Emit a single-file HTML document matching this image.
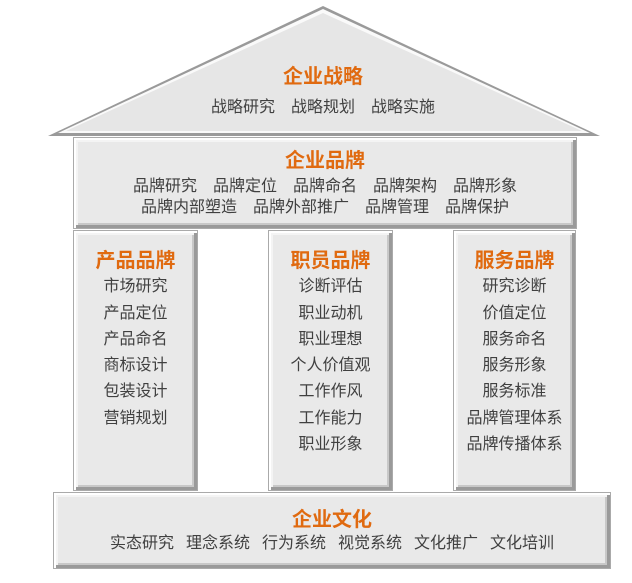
<!DOCTYPE html>
<html><head><meta charset="utf-8"><style>
body{margin:0;width:632px;height:583px;background:#fff;position:relative;overflow:hidden;font-family:"Liberation Sans","Noto Sans CJK SC",sans-serif;}
.b{position:absolute;background:#e9e9e9;box-sizing:border-box;border:1px solid #aaa;box-shadow:inset 2px 2px 0 #fff,inset -3px -3px 0 #9a9a9a,inset 4px 4px 0 #f4f4f4,inset -5px -5px 0 #c8c8c8;text-align:center;color:#404040;font-size:16px;}
.t{color:#e06a10;font-weight:bold;font-size:20px;}
.abs{position:absolute;left:14px;right:0;text-align:center;}
.r span{margin:0 8px}
.c span{margin:0 6px}
.m span{margin:0 8px}
</style></head><body>
<svg width="632" height="583" style="position:absolute;left:0;top:0">
<polygon points="323,6 48,136 600,136" fill="#9a9a9a"/>
<polygon points="323,9 58,133 590,133" fill="#fafafa"/>
<polygon points="323,13 66,131 582,131" fill="#e6e6e6"/>
</svg>
<div class="abs t" style="top:60px">企业战略</div>
<div class="abs r" style="top:93px;font-size:16px;color:#404040"><span>战略研究</span><span>战略规划</span><span>战略实施</span></div>

<div class="b m" style="left:73px;top:137px;width:504px;height:92px">
<div class="t" style="margin-top:10px;line-height:26px">企业品牌</div>
<div style="line-height:22px;margin-top:2px"><span>品牌研究</span><span>品牌定位</span><span>品牌命名</span><span>品牌架构</span><span>品牌形象</span></div>
<div style="line-height:20px"><span>品牌内部塑造</span><span>品牌外部推广</span><span>品牌管理</span><span>品牌保护</span></div>
</div>

<div class="b" style="left:73px;top:230px;width:125px;height:261px;line-height:26.3px;padding-top:17px">
<div class="t">产品品牌</div>市场研究<br>产品定位<br>产品命名<br>商标设计<br>包装设计<br>营销规划</div>
<div class="b" style="left:268px;top:230px;width:125px;height:261px;line-height:26.3px;padding-top:17px">
<div class="t">职员品牌</div>诊断评估<br>职业动机<br>职业理想<br>个人价值观<br>工作作风<br>工作能力<br>职业形象</div>
<div class="b" style="left:453px;top:230px;width:123px;height:261px;line-height:26.3px;padding-top:17px">
<div class="t">服务品牌</div>研究诊断<br>价值定位<br>服务命名<br>服务形象<br>服务标准<br>品牌管理体系<br>品牌传播体系</div>

<div class="b c" style="left:53px;top:492px;width:558px;height:77px">
<div class="t" style="margin-top:14px;line-height:26px">企业文化</div>
<div style="line-height:22px"><span>实态研究</span><span>理念系统</span><span>行为系统</span><span>视觉系统</span><span>文化推广</span><span>文化培训</span></div>
</div>
</body></html>
